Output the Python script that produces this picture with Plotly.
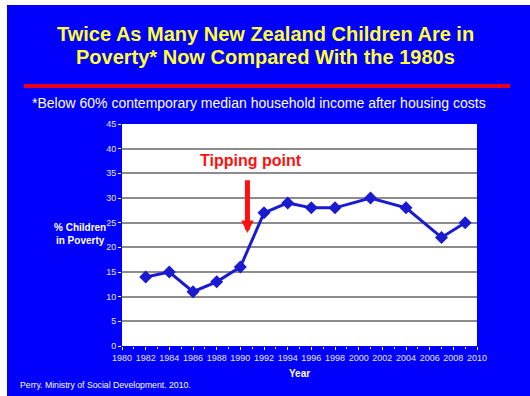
import plotly.graph_objects as go

years = [1982, 1984, 1986, 1988, 1990, 1992, 1994, 1996, 1998, 2001, 2004, 2007, 2009]
pct_children = [14, 15, 11, 13, 16, 27, 29, 28, 28, 30, 28, 22, 25]

title_line1 = "Twice As Many New Zealand Children Are in"
title_line2 = "Poverty* Now Compared With the 1980s"
subtitle_text = "*Below 60% contemporary median household income after housing costs"
ytitle_text = "% Children<br>in Poverty"
xtitle_text = "Year"
source_text = "Perry. Ministry of Social Development. 2010."
callout_text = "Tipping point"
callout_year = 1990.6
callout_top = 33.9
callout_tip = 22.9
callout_label_year = 1990.9
callout_label_y = 37.6

W, H = 530, 396
L, R, T, B = 122, 53, 124, 50
PW, PH = W - L - R, H - T - B

def px(x):
    return (x - L) / PW

def py(y):
    return (H - B - y) / PH

BLUE_BG = "#0000fc"
LINE_BLUE = "#1a1ad0"
YELLOW = "#ffff33"
RED = "#ff1010"
FONT = "Liberation Sans, Arial, sans-serif"

fig = go.Figure()
fig.add_trace(go.Scatter(
    x=years, y=pct_children, mode="lines+markers",
    line=dict(color=LINE_BLUE, width=3),
    marker=dict(symbol="diamond", size=10, color=LINE_BLUE),
    showlegend=False, hoverinfo="x+y",
))

fig.update_layout(
    width=W, height=H,
    margin=dict(l=L, r=R, t=T, b=B, pad=0),
    paper_bgcolor=BLUE_BG,
    plot_bgcolor="white",
    font=dict(family=FONT, color="white"),
    xaxis=dict(
        range=[1980, 2010], tick0=1980, dtick=2, showgrid=False, zeroline=False,
        ticks="outside", ticklen=3, tickcolor="white", tickwidth=1,
        minor=dict(dtick=1, ticks="outside", ticklen=2, tickcolor="white"),
        tickfont=dict(size=9, color="#e6e6f0"),
        showline=False,
    ),
    yaxis=dict(
        range=[0, 45], tick0=0, dtick=5, showgrid=True, gridcolor="#8c8c8c", gridwidth=2,
        zeroline=False, ticks="outside", ticklen=3, tickcolor="white",
        tickfont=dict(size=9, color="#e6e6f0"), showline=False,
    ),
)

title_font = dict(family=FONT, size=20, color=YELLOW, weight="bold")
annotations = [
    dict(text=title_line1, xref="paper", yref="paper", x=px(265), y=py(33.5),
         xanchor="center", yanchor="middle", showarrow=False, font=title_font),
    dict(text=title_line2, xref="paper", yref="paper", x=px(265), y=py(56.5),
         xanchor="center", yanchor="middle", showarrow=False, font=title_font),
    dict(text=subtitle_text, xref="paper", yref="paper", x=px(30), y=py(103),
         xanchor="left", yanchor="middle", showarrow=False,
         font=dict(size=14, color="white")),
    dict(text=ytitle_text, xref="paper", yref="paper", x=px(80), y=py(234),
         xanchor="center", yanchor="middle", showarrow=False,
         font=dict(size=10, color="white", weight="bold")),
    dict(text=xtitle_text, xref="paper", yref="paper", x=0.5, y=py(373),
         xanchor="center", yanchor="middle", showarrow=False,
         font=dict(size=10, color="white", weight="bold")),
    dict(text=source_text, xref="paper", yref="paper", x=px(18), y=py(385),
         xanchor="left", yanchor="middle", showarrow=False,
         font=dict(size=8.7, color="white")),
    dict(text=callout_text, x=callout_label_year, y=callout_label_y,
         xref="x", yref="y", showarrow=False, xanchor="center", yanchor="middle",
         font=dict(size=16, color=RED, weight="bold")),
    dict(text="", x=callout_year, y=callout_tip, ax=callout_year, ay=callout_top,
         xref="x", yref="y", axref="x", ayref="y", showarrow=True,
         arrowhead=2, arrowsize=0.5, arrowwidth=5, arrowcolor=RED, standoff=0),
]
fig.update_layout(annotations=annotations)

shapes = [
    dict(type="line", xref="paper", yref="paper", x0=px(24), x1=px(510), y0=py(86), y1=py(86),
         line=dict(color="#e8001c", width=4)),
    dict(type="rect", xref="paper", yref="paper", x0=px(0), x1=px(7), y0=py(0), y1=py(H),
         fillcolor="white", line=dict(width=0)),
    dict(type="rect", xref="paper", yref="paper", x0=px(0), x1=px(W), y0=py(0), y1=py(5),
         fillcolor="white", line=dict(width=0)),
]
fig.update_layout(shapes=shapes)

fig.write_html(
    "out.html",
    config={"displayModeBar": False},
    post_script="document.body.style.margin='0';document.body.style.overflow='hidden';",
)
